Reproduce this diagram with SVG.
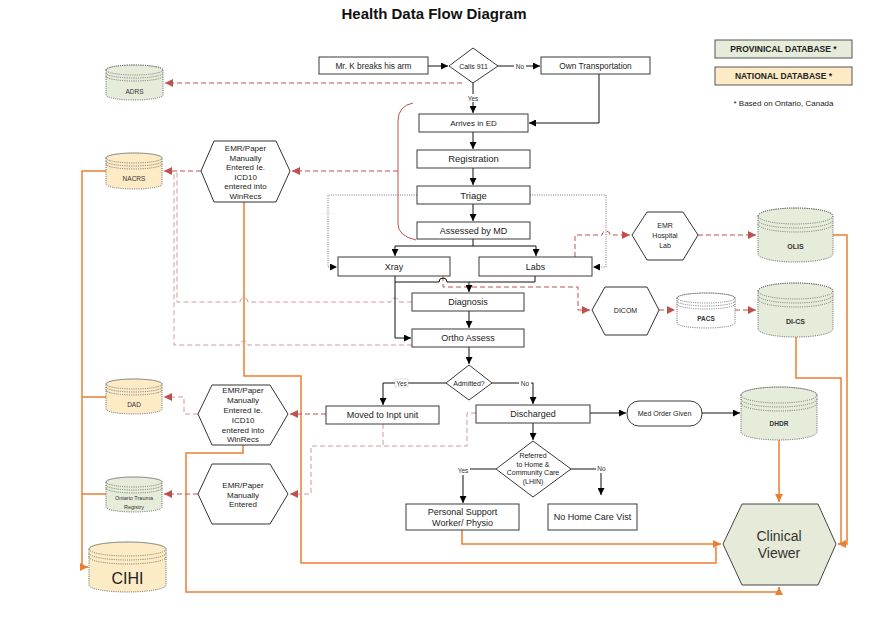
<svg xmlns="http://www.w3.org/2000/svg" width="892" height="619" viewBox="0 0 892 619">
<style>
.bg{fill:#fff}
.box{fill:#fff;stroke:#3a3a3a;stroke-width:1}
.hex{fill:#fff;stroke:#333;stroke-width:1}
.t{font-family:"Liberation Sans",Arial,sans-serif;font-size:8px;fill:#222;text-anchor:middle}
.t9{font-size:9px}
.lb{font-family:"Liberation Sans",Arial,sans-serif;font-size:6.5px;fill:#333;text-anchor:middle}
.db{font-family:"Liberation Sans",Arial,sans-serif;font-size:6.5px;fill:#333;text-anchor:middle}
.dbb{font-weight:bold;font-size:7px}
.flow{stroke:#111;stroke-width:1;fill:none}
.fa{marker-end:url(#ab)}
.dot{stroke:#555;stroke-width:0.8;stroke-dasharray:1 1.3;fill:none}
.dash{stroke:#c0504d;stroke-width:1;stroke-dasharray:5 3;fill:none}
.dashl{stroke:#cf9a98;stroke-width:1;stroke-dasharray:5 3;fill:none}
.ra{marker-end:url(#ar)}
.org{stroke:#ed7d31;stroke-width:1.5;fill:none}
.oa{marker-end:url(#ao)}
.green{fill:#e6ecda}
.yellow{fill:#fdebc6}
.white{fill:#fff}
.cyl{stroke:#555;stroke-width:0.9;stroke-dasharray:1 1.2}
.ring{fill:none;stroke:#555;stroke-width:0.8;stroke-dasharray:1 1.2}
</style>
<defs>
<marker id="ab" viewBox="0 0 10 10" refX="10" refY="5" markerWidth="7" markerHeight="7" markerUnits="userSpaceOnUse" orient="auto"><path d="M0,0 L10,5 L0,10 z" fill="#000"/></marker>
<marker id="ar" viewBox="0 0 10 10" refX="10" refY="5" markerWidth="8" markerHeight="8" markerUnits="userSpaceOnUse" orient="auto"><path d="M0,0 L10,5 L0,10 z" fill="#c0504d"/></marker>
<marker id="ao" viewBox="0 0 10 10" refX="10" refY="5" markerWidth="8" markerHeight="8" markerUnits="userSpaceOnUse" orient="auto"><path d="M0,0 L10,5 L0,10 z" fill="#ed7d31"/></marker>
</defs>
<rect class="bg" x="0" y="0" width="892" height="619"/>

<text x="434" y="19" style="font-family:'Liberation Sans',Arial,sans-serif;font-size:15px;font-weight:bold;fill:#111;text-anchor:middle">Health Data Flow Diagram</text>

<!-- Connectors -->
<g id="connectors">
  <!-- orange -->
  <path class="org" d="M244,202 L244,376 L301,376 L301,563 L716,563 L716,547"/>
  <path class="org oa" d="M462,530 L462,544 L721,544"/>
  <path class="org oa" d="M243,445 L243,453 L186,453 L186,592 L779,592 L779,587"/>
  <path class="org oa" d="M106,171 L82,171 L82,567 L88,567"/>
  <path class="org" d="M106,397 L82,397"/>
  <path class="org" d="M106,494 L82,494"/>
  <path class="org oa" d="M833,235 L847,235 L847,544 L838,544"/>
  <path class="org" d="M796,337 L796,378 L841,378 L841,544"/>
  <path class="org oa" d="M779,440 L779,502"/>

  <!-- red solid bracket -->
  <path d="M413,103 Q398,106 398,121 L398,224 Q398,236 416,240" fill="none" stroke="#c0504d" stroke-width="1"/>

  <!-- red dashed -->
  <path class="dash ra" d="M462,83 L165,83"/>
  <path class="dash ra" d="M398,171 L292,171"/>
  <path class="dash ra" d="M201,171 L164,171"/>
  <path class="dashl" d="M412,302 L399,302 A4,4 0 0 0 391,302 L248,302 A4,4 0 0 0 240,302 L177,302 L177,171"/>
  <path class="dashl" d="M412,345 L248,345 A4,4 0 0 0 240,345 L174,345 L174,171"/>
  <path class="dash ra" d="M575,257 L575,235 L602,235 A4,4 0 0 1 610,235 L630,235"/>
  <path class="dash ra" d="M698,235 L756,235"/>
  <path class="dash ra" d="M443,276 L443,287 L578,287 L578,310 L590,310"/>
  <path class="dash ra" d="M659,310 L675,310"/>
  <path class="dash ra" d="M735,310 L756,310"/>
  <path class="dash ra" d="M326,414 L290,414"/>
  <path class="dashl ra" d="M198,414 L184,414 L184,397 L164,397"/>
  <path class="dashl ra" d="M383,424 L383,446 L311,446 L311,494 L290,494"/>
  <path class="dashl" d="M476,413 L467,413 L467,446 L383,446"/>
  <path class="dash ra" d="M198,494 L164,494"/>

  <!-- black flows -->
  <path class="flow fa" d="M428,66 L448,66"/>
  <path class="flow fa" d="M498,66 L540,66"/>
  <path class="flow fa" d="M473,83 L473,113"/>
  <path class="flow fa" d="M599,74 L599,123 L529,123"/>
  <path class="flow fa" d="M473,132 L473,149"/>
  <path class="flow fa" d="M473,168 L473,185"/>
  <path class="flow fa" d="M473,204 L473,221"/>
  <path class="flow" d="M473,239 L473,246 M395,246 L536,246"/>
  <path class="flow fa" d="M395,246 L395,256"/>
  <path class="flow fa" d="M536,246 L536,256"/>
  <path class="dot fa" d="M417,195 L328,195 L328,267 L337,267"/>
  <path class="dot fa" d="M530,195 L606,195 L606,267 L593,267"/>
  <path class="flow fa" d="M395,276 L395,338 L411,338"/>
  <path class="flow" d="M535,276 L535,282 L447,282 A4,4 0 0 0 439,282 L395,282"/>
  <path class="flow fa" d="M469,282 L469,292"/>
  <path class="flow fa" d="M469,311 L469,328"/>
  <path class="flow fa" d="M469,347 L469,364"/>
  <path class="flow fa" d="M446,383 L383,383 L383,405"/>
  <path class="flow fa" d="M492,383 L533,383 L533,404"/>
  <path class="flow fa" d="M533,423 L533,440"/>
  <path class="flow fa" d="M496,469 L463,469 L463,503"/>
  <path class="flow fa" d="M571,469 L601,469 L601,495"/>
  <path class="flow fa" d="M590,413 L626,413"/>
  <path class="flow fa" d="M702,413 L740,413"/>

  <!-- labels -->
  <rect class="bg" x="514" y="62" width="12" height="8"/>
  <text class="lb" x="520" y="68.5">No</text>
  <rect class="bg" x="466" y="94" width="14" height="8"/>
  <text class="lb" x="473" y="100.5">Yes</text>
  <rect x="395" y="379" width="13" height="8" fill="#fff" stroke="#bbb" stroke-width="0.5"/>
  <text class="lb" x="401.5" y="385.5">Yes</text>
  <rect class="bg" x="519" y="379" width="12" height="8"/>
  <text class="lb" x="525" y="385.5">No</text>
  <rect class="bg" x="456" y="467" width="14" height="8"/>
  <text class="lb" x="463" y="473">Yes</text>
  <rect class="bg" x="596" y="465" width="11" height="8"/>
  <text class="lb" x="601.5" y="471">No</text>
</g>

<!-- Process nodes -->
<g id="mrk"><rect class="box" x="319" y="57" width="109" height="17"/><text class="t" x="373.5" y="68.5" style="font-size:8.3px">Mr. K breaks his arm</text></g>
<g id="calls911"><polygon class="box" points="473,48 498,66 473,83 449,66"/><text class="t" x="473.5" y="68.5" style="font-size:7px">Calls 911</text></g>
<g id="owntransport"><rect class="box" x="541" y="57" width="109" height="17"/><text class="t" x="595.5" y="68.5" style="font-size:8.3px">Own Transportation</text></g>
<g id="arrives"><rect class="box" x="419" y="114" width="109" height="18"/><text class="t" x="473.5" y="126">Arrives in ED</text></g>
<g id="registration"><rect class="box" x="417" y="150" width="113" height="18"/><text class="t" x="473.5" y="162" style="font-size:9.5px">Registration</text></g>
<g id="triage"><rect class="box" x="417" y="186" width="113" height="18"/><text class="t" x="473.5" y="198.5" style="font-size:9.5px">Triage</text></g>
<g id="assessed"><rect class="box" x="417" y="222" width="113" height="17"/><text class="t t9" x="473.5" y="234">Assessed by MD</text></g>
<g id="xray"><rect class="box" x="338" y="257" width="112" height="19"/><text class="t t9" x="394" y="269.5">Xray</text></g>
<g id="labs"><rect class="box" x="479" y="257" width="113" height="19"/><text class="t t9" x="535.5" y="269.5">Labs</text></g>
<g id="diagnosis"><rect class="box" x="412" y="293" width="112" height="18"/><text class="t t9" x="468" y="305">Diagnosis</text></g>
<g id="ortho"><rect class="box" x="412" y="329" width="112" height="18"/><text class="t t9" x="468" y="341">Ortho Assess</text></g>
<g id="admitted"><polygon class="box" points="469,365 492,383 469,400 446,383"/><text class="t" x="469" y="385.5" style="font-size:7px">Admitted?</text></g>
<g id="moved"><rect class="box" x="326" y="406" width="113" height="18"/><text class="t t9" x="382.5" y="418">Moved to Inpt unit</text></g>
<g id="discharged"><rect class="box" x="476" y="405" width="114" height="18"/><text class="t t9" x="533" y="417">Discharged</text></g>
<g id="medorder"><rect class="box" x="627" y="401" width="75" height="25" rx="12" ry="12"/><text class="t" x="664.5" y="416" style="font-size:7px">Med Order Given</text></g>
<g id="referred"><polygon class="box" points="533,441 571,469 533,497 496,469"/>
  <text class="t" x="533" y="458" style="font-size:7px">Referred</text>
  <text class="t" x="533" y="466.5" style="font-size:7px">to Home &amp;</text>
  <text class="t" x="533" y="475" style="font-size:7px">Community Care</text>
  <text class="t" x="533" y="483.5" style="font-size:7px">(LHIN)</text></g>
<g id="psw"><rect class="box" x="406" y="504" width="113" height="26"/><text class="t t9" x="462.5" y="514.5">Personal Support</text><text class="t t9" x="462.5" y="526">Worker/ Physio</text></g>
<g id="nohomecare"><rect class="box" x="548" y="504" width="89" height="26"/><text class="t t9" x="592.5" y="520">No Home Care Vist</text></g>

<!-- Hexagon nodes -->
<g id="emr1"><polygon class="hex" points="201,171 214,141 276,141 290,171 276,202 214,202"/>
  <text class="t" x="245.5" y="151">EMR/Paper</text><text class="t" x="245.5" y="160.5">Manually</text><text class="t" x="245.5" y="170">Entered Ie.</text><text class="t" x="245.5" y="179.5">ICD10</text><text class="t" x="245.5" y="189">entered into</text><text class="t" x="245.5" y="198.5">WinRecs</text></g>
<g id="emr2"><polygon class="hex" points="198,414 212,385 270,385 288,414 270,445 212,445"/>
  <text class="t" x="243" y="393">EMR/Paper</text><text class="t" x="243" y="403">Manually</text><text class="t" x="243" y="413">Entered Ie.</text><text class="t" x="243" y="423">ICD10</text><text class="t" x="243" y="432.5">entered into</text><text class="t" x="243" y="442">WinRecs</text></g>
<g id="emr3"><polygon class="hex" points="198,494 212,464 270,464 288,494 270,524 212,524"/>
  <text class="t" x="243" y="488">EMR/Paper</text><text class="t" x="243" y="497.5">Manually</text><text class="t" x="243" y="507">Entered</text></g>
<g id="emrlab"><polygon class="hex" points="632,235 647,212 683,212 698,235 683,260 647,260"/>
  <text class="t" x="665" y="228" style="font-size:7px">EMR</text><text class="t" x="665" y="238" style="font-size:7px">Hospital</text><text class="t" x="665" y="248" style="font-size:7px">Lab</text></g>
<g id="dicom"><polygon class="hex" points="592,310 605,287 647,287 659,310 647,335 605,335"/>
  <text class="t" x="625.5" y="313" style="font-size:7px">DICOM</text></g>
<g id="clinicalviewer"><polygon points="723,544 742,504 818,504 836,544 818,585 742,585" fill="#e6ebd9" stroke="#444" stroke-width="1"/>
  <text class="t" x="779" y="541" style="font-size:14px;fill:#333">Clinical</text><text class="t" x="779" y="558" style="font-size:14px;fill:#333">Viewer</text></g>

<!-- Database cylinders -->
<g id="adrs">
  <path class="green cyl" d="M106,70 A28.5,5 0 0 1 163,70 L163,95 A28.5,5 0 0 1 106,95 Z"/>
  <ellipse class="ring" cx="134.5" cy="70" rx="28.5" ry="5"/>
  <path class="ring" d="M106,73 A28.5,5 0 0 0 163,73 M106,76 A28.5,5 0 0 0 163,76"/>
  <text class="db" x="134.5" y="94">ADRS</text></g>
<g id="nacrs">
  <path class="yellow cyl" d="M106,158 A28,5 0 0 1 162,158 L162,184 A28,5 0 0 1 106,184 Z"/>
  <ellipse class="ring" cx="134" cy="158" rx="28" ry="5"/>
  <path class="ring" d="M106,161 A28,5 0 0 0 162,161 M106,164 A28,5 0 0 0 162,164"/>
  <text class="db" x="134" y="181">NACRS</text></g>
<g id="dad">
  <path class="yellow cyl" d="M106,384 A28,5 0 0 1 162,384 L162,409 A28,5 0 0 1 106,409 Z"/>
  <ellipse class="ring" cx="134" cy="384" rx="28" ry="5"/>
  <path class="ring" d="M106,387 A28,5 0 0 0 162,387 M106,390 A28,5 0 0 0 162,390"/>
  <text class="db" x="134" y="407">DAD</text></g>
<g id="otr">
  <path class="green cyl" d="M106,482 A28,5 0 0 1 162,482 L162,507 A28,5 0 0 1 106,507 Z"/>
  <ellipse class="ring" cx="134" cy="482" rx="28" ry="5"/>
  <path class="ring" d="M106,485 A28,5 0 0 0 162,485 M106,488 A28,5 0 0 0 162,488"/>
  <text class="db" x="134" y="500" style="font-size:5.5px">Ontario Trauma</text><text class="db" x="134" y="508.5" style="font-size:5.5px">Registry</text></g>
<g id="cihi">
  <path class="yellow cyl" d="M89,549 A38.5,7 0 0 1 166,549 L166,585 A38.5,7 0 0 1 89,585 Z"/>
  <ellipse class="ring" cx="127.5" cy="549" rx="38.5" ry="7"/>
  <path class="ring" d="M89,553 A38.5,7 0 0 0 166,553 M89,557 A38.5,7 0 0 0 166,557"/>
  <text class="db" x="127.5" y="584" style="font-size:16px;fill:#222">CIHI</text></g>
<g id="olis">
  <path class="green cyl" d="M758,216 A37.5,8 0 0 1 833,216 L833,254 A37.5,8 0 0 1 758,254 Z"/>
  <ellipse class="ring" cx="795.5" cy="216" rx="37.5" ry="8"/>
  <path class="ring" d="M758,220 A37.5,8 0 0 0 833,220 M758,224 A37.5,8 0 0 0 833,224"/>
  <text class="db dbb" x="795.5" y="249">OLIS</text></g>
<g id="pacs">
  <path class="white cyl" d="M677,298 A29,5 0 0 1 735,298 L735,323 A29,5 0 0 1 677,323 Z"/>
  <ellipse class="ring" cx="706" cy="298" rx="29" ry="5"/>
  <path class="ring" d="M677,301 A29,5 0 0 0 735,301 M677,304 A29,5 0 0 0 735,304"/>
  <text class="db dbb" x="706" y="321" style="font-size:6.5px">PACS</text></g>
<g id="dics">
  <path class="green cyl" d="M758,291 A37.5,8 0 0 1 833,291 L833,329 A37.5,8 0 0 1 758,329 Z"/>
  <ellipse class="ring" cx="795.5" cy="291" rx="37.5" ry="8"/>
  <path class="ring" d="M758,295 A37.5,8 0 0 0 833,295 M758,299 A37.5,8 0 0 0 833,299"/>
  <text class="db dbb" x="795.5" y="324">DI-CS</text></g>
<g id="dhdr">
  <path class="green cyl" d="M741,395 A38,8 0 0 1 817,395 L817,432 A38,8 0 0 1 741,432 Z"/>
  <ellipse class="ring" cx="779" cy="395" rx="38" ry="8"/>
  <path class="ring" d="M741,399 A38,8 0 0 0 817,399 M741,403 A38,8 0 0 0 817,403"/>
  <text class="db dbb" x="779" y="426" style="font-size:6.5px">DHDR</text></g>

<!-- Legend -->
<g id="legend">
  <rect x="715" y="40" width="137" height="18" fill="#e6ecda" stroke="#555" stroke-width="1"/>
  <text class="t" x="783.5" y="52" style="font-size:8.5px;font-weight:bold">PROVINICAL DATABASE *</text>
  <rect x="715" y="67" width="137" height="18" fill="#fdebc6" stroke="#555" stroke-width="1"/>
  <text class="t" x="783.5" y="79" style="font-size:8.5px;font-weight:bold">NATIONAL DATABASE *</text>
  <text class="t" x="783.5" y="106" style="font-size:8px">* Based on Ontario, Canada</text>
</g>
</svg>
